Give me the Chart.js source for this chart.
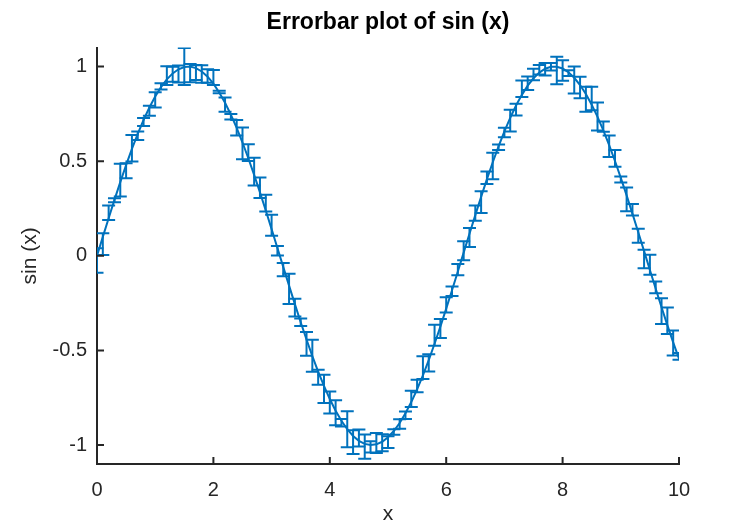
<!DOCTYPE html>
<html>
<head>
<meta charset="utf-8">
<title>Errorbar plot of sin (x)</title>
<script src="https://cdn.jsdelivr.net/npm/chart.js@4.4.1/dist/chart.umd.min.js"></script>
<style>
  html, body { margin: 0; padding: 0; background: #ffffff; }
  canvas { display: block; }
</style>
</head>
<body>
<canvas id="errChart" width="750" height="525"></canvas>
<script>
// --- Data ---
const xValues = [
  0, 0.1, 0.2, 0.3, 0.4, 0.5, 0.6, 0.7, 0.8, 0.9,
  1, 1.1, 1.2, 1.3, 1.4, 1.5, 1.6, 1.7, 1.8, 1.9,
  2, 2.1, 2.2, 2.3, 2.4, 2.5, 2.6, 2.7, 2.8, 2.9,
  3, 3.1, 3.2, 3.3, 3.4, 3.5, 3.6, 3.7, 3.8, 3.9,
  4, 4.1, 4.2, 4.3, 4.4, 4.5, 4.6, 4.7, 4.8, 4.9,
  5, 5.1, 5.2, 5.3, 5.4, 5.5, 5.6, 5.7, 5.8, 5.9,
  6, 6.1, 6.2, 6.3, 6.4, 6.5, 6.6, 6.7, 6.8, 6.9,
  7, 7.1, 7.2, 7.3, 7.4, 7.5, 7.6, 7.7, 7.8, 7.9,
  8, 8.1, 8.2, 8.3, 8.4, 8.5, 8.6, 8.7, 8.8, 8.9,
  9, 9.1, 9.2, 9.3, 9.4, 9.5, 9.6, 9.7, 9.8, 9.9,
  10
];
const yValues = [
  0, 0.0998, 0.1987, 0.2955, 0.3894, 0.4794, 0.5646, 0.6442, 0.7174, 0.7833,
  0.8415, 0.8912, 0.9320, 0.9636, 0.9854, 0.9975, 0.9996, 0.9917, 0.9738, 0.9463,
  0.9093, 0.8632, 0.8085, 0.7457, 0.6755, 0.5985, 0.5155, 0.4274, 0.3350, 0.2392,
  0.1411, 0.0416, -0.0584, -0.1577, -0.2555, -0.3508, -0.4425, -0.5298, -0.6119, -0.6878,
  -0.7568, -0.8183, -0.8716, -0.9162, -0.9516, -0.9775, -0.9937, -0.9999, -0.9962, -0.9825,
  -0.9589, -0.9258, -0.8835, -0.8323, -0.7728, -0.7055, -0.6313, -0.5507, -0.4646, -0.3739,
  -0.2794, -0.1822, -0.0831, 0.0168, 0.1165, 0.2151, 0.3115, 0.4048, 0.4941, 0.5784,
  0.6570, 0.7290, 0.7937, 0.8504, 0.8987, 0.9380, 0.9679, 0.9882, 0.9985, 0.9989,
  0.9894, 0.9699, 0.9407, 0.9022, 0.8546, 0.7985, 0.7344, 0.6630, 0.5849, 0.5010,
  0.4121, 0.3191, 0.2229, 0.1245, 0.0248, -0.0752, -0.1743, -0.2718, -0.3665, -0.4575,
  -0.5440
];
const lowerErr = [
  0.09, 0.095, 0.009, 0.012, 0.076, 0.07, 0.067, 0.032, 0.032, 0.044,
  0.058, 0.012, 0.03, 0.044, 0.07, 0.095, 0.083, 0.063, 0.06, 0.032,
  0.007, 0.005, 0.047, 0.025, 0.04, 0.088, 0.015, 0.056, 0.03, 0.005,
  0.035, 0.04, 0.05, 0.097, 0.065, 0.02, 0.085, 0.083, 0.07, 0.09,
  0.077, 0.077, 0.03, 0.095, 0.095, 0.03, 0.079, 0.04, 0.046, 0.05,
  0.056, 0.02, 0.03, 0.03, 0.026, 0.016, 0.02, 0.06, 0.01, 0.06,
  0.02, 0.03, 0.02, 0.04, 0.07, 0.03, 0.086, 0.026, 0.09, 0.02,
  0.03, 0.072, 0.053, 0.012, 0.023, 0.01, 0.01, 0.035, 0.02, 0.093,
  0.065, 0.02, 0.083, 0.07, 0.093, 0.03, 0.072, 0.007, 0.063, 0.03,
  0.025, 0.084, 0.01, 0.055, 0.09, 0.025, 0.023, 0.088, 0.046, 0.069,
  0.005
];
const upperErr = [
  0.04, 0.019, 0.067, 0.009, 0.097, 0.009, 0.074, 0.012, 0.01, 0.01,
  0.023, 0.02, 0.07, 0.035, 0.02, 0.1, 0.014, 0.016, 0.033, 0.039,
  0.072, 0.009, 0.028, 0.004, 0.042, 0.079, 0.074, 0.091, 0.079, 0.083,
  0.076, 0.01, 0.02, 0.063, 0.028, 0.02, 0.04, 0.086, 0.01, 0.06,
  0.04, 0.055, 0.01, 0.095, 0.03, 0.06, 0.05, 0.02, 0.06, 0.04,
  0.005, 0.01, 0.02, 0.01, 0.06, 0.05, 0.1, 0.03, 0.1, 0.04,
  0.06, 0.02, 0.04, 0.06, 0.03, 0.05, 0.03, 0.04, 0.05, 0.01,
  0.02, 0.042, 0.009, 0.076, 0.048, 0.05, 0.04, 0.03, 0.02, 0.053,
  0.044, 0.01, 0.06, 0.044, 0.039, 0.095, 0.076, 0.046, 0.051, 0.058,
  0.007, 0.042, 0.051, 0.018, 0.007, 0.081, 0.039, 0.048, 0.093, 0.063,
  0.03
];
const xTicks = [0, 2, 4, 6, 8, 10];
const yTicks = [-1, -0.5, 0, 0.5, 1];

const BLUE = "#0072bd";
const AXIS = "#262626";
const FONT = "'Liberation Sans', Arial, Helvetica, sans-serif";

// error bars with caps, drawn through the chart scales
const errorBars = {
  id: "errorBars",
  afterDatasetsDraw(chart) {
    const { ctx, chartArea, scales: { x, y } } = chart;
    ctx.save();
    ctx.beginPath();
    ctx.rect(chartArea.left, chartArea.top, chartArea.right - chartArea.left, chartArea.bottom - chartArea.top);
    ctx.clip();
    ctx.strokeStyle = BLUE;
    ctx.lineWidth = 2;
    const cap = 6.5;
    xValues.forEach((xv, i) => {
      const px = x.getPixelForValue(xv);
      const top = y.getPixelForValue(yValues[i] + upperErr[i]);
      const bot = y.getPixelForValue(yValues[i] - lowerErr[i]);
      ctx.beginPath();
      ctx.moveTo(px, top); ctx.lineTo(px, bot);
      ctx.moveTo(px - cap, top); ctx.lineTo(px + cap, top);
      ctx.moveTo(px - cap, bot); ctx.lineTo(px + cap, bot);
      ctx.stroke();
    });
    ctx.restore();
  }
};

// octave-style ticks pointing into the plot
const innerTicks = {
  id: "innerTicks",
  afterDraw(chart) {
    const { ctx, chartArea, scales: { x, y } } = chart;
    ctx.save();
    ctx.strokeStyle = AXIS;
    ctx.lineWidth = 2;
    ctx.beginPath();
    xTicks.forEach(v => {
      const px = x.getPixelForValue(v);
      ctx.moveTo(px, chartArea.bottom);
      ctx.lineTo(px, chartArea.bottom - 7);
    });
    yTicks.forEach(v => {
      const py = y.getPixelForValue(v);
      ctx.moveTo(chartArea.left, py);
      ctx.lineTo(chartArea.left + 7, py);
    });
    ctx.stroke();
    ctx.restore();
  }
};

const ctx = document.getElementById("errChart").getContext("2d");

new Chart(ctx, {
  type: "line",
  data: {
    datasets: [{
      label: "sin (x)",
      data: xValues.map((xv, i) => ({ x: xv, y: yValues[i] })),
      borderColor: BLUE,
      borderWidth: 2,
      pointRadius: 0,
      tension: 0,
      fill: false
    }]
  },
  options: {
    responsive: false,
    animation: false,
    layout: { padding: { left: 0, right: 71, top: 0, bottom: 0 } },
    plugins: {
      legend: { display: false },
      tooltip: { enabled: false },
      title: {
        display: true,
        text: "Errorbar plot of sin (x)",
        fullSize: false,
        color: "#000000",
        font: { family: FONT, size: 23, weight: "bold" },
        padding: { top: 9, bottom: 11 }
      }
    },
    scales: {
      x: {
        type: "linear",
        min: 0,
        max: 10,
        afterBuildTicks: s => { s.ticks = xTicks.map(v => ({ value: v })); },
        afterFit: s => { s.height = 61; },
        grid: { display: false, drawTicks: false },
        border: { display: true, color: AXIS, width: 2 },
        ticks: {
          color: AXIS,
          padding: 14,
          maxRotation: 0,
          font: { family: FONT, size: 20 },
          callback: v => String(v)
        },
        title: {
          display: true,
          text: "x",
          color: AXIS,
          font: { family: FONT, size: 21, lineHeight: 1 },
          padding: { top: 0, bottom: 0 }
        }
      },
      y: {
        type: "linear",
        min: -1.1,
        max: 1.1,
        afterBuildTicks: s => { s.ticks = yTicks.map(v => ({ value: v })); },
        afterFit: s => { s.width = 97; },
        grid: { display: false, drawTicks: false },
        border: { display: true, color: AXIS, width: 2 },
        ticks: {
          color: AXIS,
          padding: 10,
          font: { family: FONT, size: 20 },
          callback: v => String(v)
        },
        title: {
          display: true,
          text: "sin (x)",
          color: AXIS,
          font: { family: FONT, size: 21, lineHeight: 1 },
          padding: { top: 20, bottom: 0 }
        }
      }
    }
  },
  plugins: [errorBars, innerTicks]
});
</script>
</body>
</html>
